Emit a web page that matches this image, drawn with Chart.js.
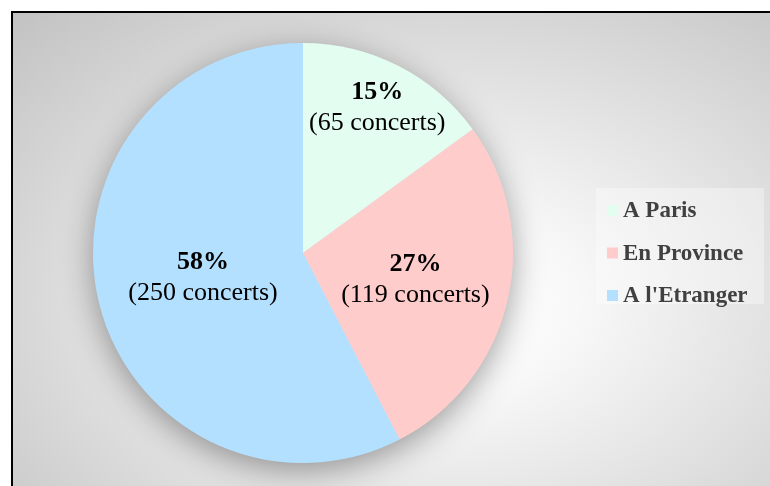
<!DOCTYPE html>
<html>
<head>
<meta charset="utf-8">
<script src="https://cdn.jsdelivr.net/npm/chart.js@4/dist/chart.umd.min.js"></script>
<style>
  html, body { margin: 0; padding: 0; background: #ffffff; overflow: hidden; }
  #frame {
    position: absolute; left: 11px; top: 11px; width: 800px; height: 560px;
    border-left: 2px solid #000; border-top: 2px solid #000;
    background: radial-gradient(ellipse farthest-corner at 430px 290px, #ffffff 0%, #f8f8f8 22%, #c2c2c2 100%);
  }
  #c { position: absolute; left: 0; top: 0; }
</style>
</head>
<body>
<div id="frame"></div>
<canvas id="c" width="770" height="486"></canvas>
<script>
// data
const labels = ["A Paris", "En Province", "A l'Etranger"];
const concerts = [65, 119, 250];
const colors = ["#E3FDF0", "#FFCCCC", "#B4E0FF"];

// how far out each slice label sits (fraction of radius)
const labelRadius = [0.78, 0.55, 0.49];

const total = concerts.reduce((a, b) => a + b, 0);

// soft shadow under the whole pie
const pieShadow = {
  id: 'pieShadow',
  beforeDatasetsDraw(chart) {
    const arc = chart.getDatasetMeta(0).data[0];
    if (!arc) return;
    const ctx = chart.ctx;
    ctx.save();
    ctx.shadowColor = 'rgba(0,0,0,0.38)';
    ctx.shadowBlur = 32;
    ctx.shadowOffsetY = 8;
    ctx.fillStyle = '#dddddd';
    ctx.beginPath();
    ctx.arc(arc.x, arc.y, arc.outerRadius - 1, 0, Math.PI * 2);
    ctx.fill();
    ctx.restore();
  }
};

// percent + count labels inside slices
const sliceLabels = {
  id: 'sliceLabels',
  afterDatasetsDraw(chart) {
    const ctx = chart.ctx;
    const meta = chart.getDatasetMeta(0);
    ctx.save();
    ctx.fillStyle = '#000';
    ctx.textAlign = 'center';
    ctx.textBaseline = 'middle';
    meta.data.forEach((arc, i) => {
      const mid = (arc.startAngle + arc.endAngle) / 2;
      const r = arc.outerRadius * labelRadius[i];
      const x = arc.x + Math.cos(mid) * r;
      const y = arc.y + Math.sin(mid) * r;
      const pct = Math.round(concerts[i] / total * 100) + '%';
      ctx.font = 'bold 26px "Liberation Serif", "Times New Roman", serif';
      ctx.fillText(pct, x, y - 15);
      ctx.font = '26px "Liberation Serif", "Times New Roman", serif';
      ctx.fillText('(' + concerts[i] + ' concerts)', x, y + 16);
    });
    ctx.restore();
  }
};

// legend box on the right
const sideLegend = {
  id: 'sideLegend',
  afterDraw(chart) {
    const ctx = chart.ctx;
    ctx.save();
    ctx.fillStyle = 'rgba(255,255,255,0.35)';
    ctx.fillRect(596, 188, 168, 116);
    ctx.font = 'bold 23px "Liberation Serif", "Times New Roman", serif';
    ctx.textBaseline = 'alphabetic';
    ctx.textAlign = 'left';
    labels.forEach((lab, i) => {
      const base = 217 + i * 42.5;
      ctx.fillStyle = colors[i];
      ctx.fillRect(607, base - 12, 11, 11);
      ctx.fillStyle = '#404040';
      ctx.fillText(lab, 623, base);
    });
    ctx.restore();
  }
};

new Chart(document.getElementById('c'), {
  type: 'pie',
  data: {
    labels: labels,
    datasets: [{
      data: concerts,
      backgroundColor: colors,
      borderWidth: 0
    }]
  },
  options: {
    responsive: false,
    animation: false,
    layout: { padding: { left: 93, top: 43, right: 257, bottom: 23 } },
    plugins: {
      legend: { display: false },
      tooltip: { enabled: false }
    }
  },
  plugins: [pieShadow, sliceLabels, sideLegend]
});
</script>
</body>
</html>
